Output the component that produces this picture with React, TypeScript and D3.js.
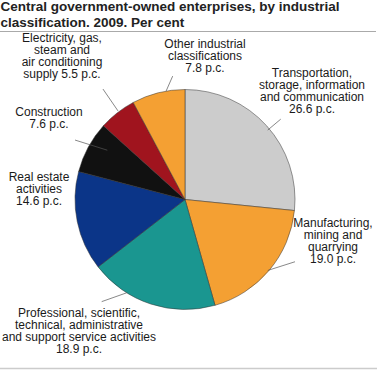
import { useEffect, useRef } from 'react'
import * as d3 from 'd3'

// data, clockwise from 12 o'clock
const categories = [
  'Transportation, storage, information and communication',
  'Manufacturing, mining and quarrying',
  'Professional, scientific, technical, administrative and support service activities',
  'Real estate activities',
  'Construction',
  'Electricity, gas, steam and air conditioning supply',
  'Other industrial classifications',
]
const shares = [26.6, 19.0, 18.9, 14.6, 7.6, 5.5, 7.8]
const colors = ['#cccccc', '#f4a033', '#1a9690', '#0b3588', '#111111', '#a0141e', '#f4a033']

// label text broken into lines
const labelLines = [
  ['Transportation,', 'storage, information', 'and communication', '26.6 p.c.'],
  ['Manufacturing,', 'mining and', 'quarrying', '19.0 p.c.'],
  ['Professional, scientific,', 'technical, administrative', 'and support service activities', '18.9 p.c.'],
  ['Real estate', 'activities', '14.6 p.c.'],
  ['Construction', '7.6 p.c.'],
  ['Electricity, gas,', 'steam and', 'air conditioning', 'supply 5.5 p.c.'],
  ['Other industrial', 'classifications', '7.8 p.c.'],
]

// label placement (center x, first baseline) and leader lines in polar coords [deg, r, deg, r]
const labelPos = [
  { x: 312, y: 77, leader: [50, 108, 50, 125] },
  { x: 333, y: 227, leader: [130.6, 109, 119.5, 126.4] },
  { x: 79, y: 317, leader: [212, 110, 219.2, 131.8] },
  { x: 39, y: 181, leader: null },
  { x: 49, y: 116, leader: [302.4, 92, 298.4, 125] },
  { x: 62, y: 42, leader: [322.9, 111, 323.4, 137.6] },
  { x: 205, y: 47.5, leader: [350.1, 110, 354.3, 124] },
]

const App = () => {
  const ref = useRef(null)

  useEffect(() => {
    const width = 377
    const height = 370
    const cx = 185
    const cy = 199.5
    const radius = 110
    const lineH = 12

    d3.select(ref.current).selectAll('*').remove()
    const svg = d3.select(ref.current)
      .append('svg')
      .attr('width', width)
      .attr('height', height)
      .style('display', 'block')
      .style('font-family', 'Arial, "Liberation Sans", sans-serif')

    // title
    svg.append('text')
      .attr('font-size', 13.5)
      .attr('font-weight', 'bold')
      .attr('fill', '#222')
      .selectAll('tspan')
      .data(['Central government-owned enterprises, by industrial', 'classification. 2009. Per cent'])
      .enter().append('tspan')
        .attr('x', 0.5)
        .attr('y', (d, i) => 11 + i * 15.5)
        .text(d => d)

    svg.append('line')
      .attr('x1', 0).attr('x2', 376)
      .attr('y1', 31.5).attr('y2', 31.5)
      .attr('stroke', '#aaa')
    svg.append('line')
      .attr('x1', 0).attr('x2', 377)
      .attr('y1', 368.5).attr('y2', 368.5)
      .attr('stroke', '#ccc')
      .attr('stroke-width', 1.5)

    // pie
    const pie = d3.pie<number>().sort(null).value(d => d)
    const arc = d3.arc<d3.PieArcDatum<number>>().innerRadius(0).outerRadius(radius)
    const g = svg.append('g').attr('transform', `translate(${cx},${cy})`)
    g.selectAll('path')
      .data(pie(shares))
      .enter().append('path')
        .attr('d', arc)
        .attr('fill', (d, i) => colors[i])
        .attr('stroke', '#333')
        .attr('stroke-width', 0.5)

    // leader lines
    const rad = (deg: number) => deg * Math.PI / 180
    labelPos.forEach(p => {
      if (!p.leader) return
      const [a1, r1, a2, r2] = p.leader
      const s = d3.pointRadial(rad(a1), r1)
      const e = d3.pointRadial(rad(a2), r2)
      g.append('line')
        .attr('x1', s[0]).attr('y1', s[1])
        .attr('x2', e[0]).attr('y2', e[1])
        .attr('stroke', '#555')
        .attr('stroke-width', 0.7)
    })

    // labels
    labelLines.forEach((lines, i) => {
      const p = labelPos[i]
      svg.append('text')
        .attr('text-anchor', 'middle')
        .attr('font-size', 12)
        .attr('fill', '#1a1a1a')
        .selectAll('tspan')
        .data(lines)
        .enter().append('tspan')
          .attr('x', p.x)
          .attr('y', (d, j) => p.y + j * lineH)
          .text(d => d)
    })
  }, [])

  return (
    <div ref={ref} style={{ position: 'absolute', left: 0, top: 0 }}></div>
  )
}

export default App
